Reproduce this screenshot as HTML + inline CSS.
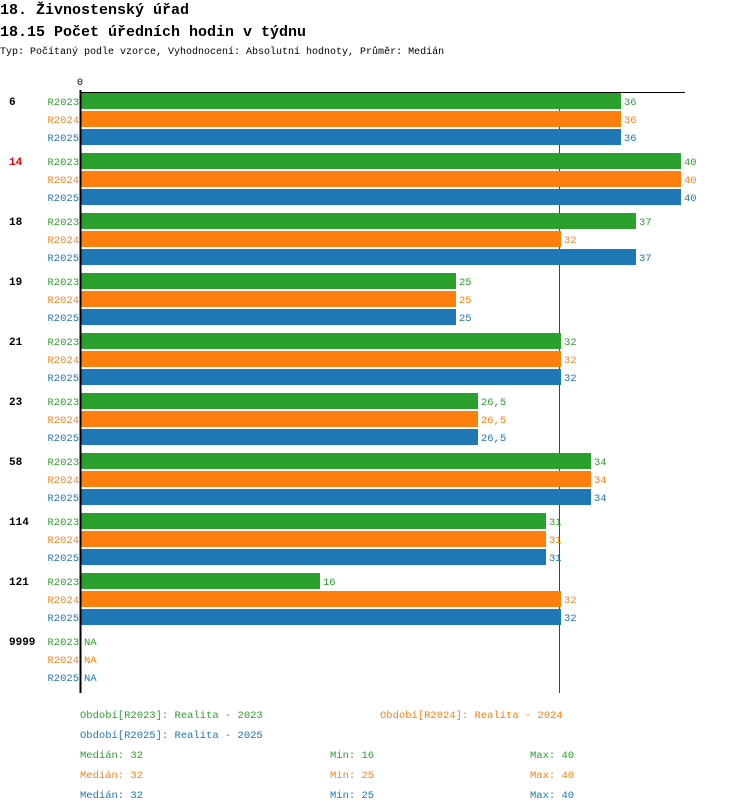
<!DOCTYPE html>
<html><head><meta charset="utf-8"><style>
body{margin:0;background:#fff;}
svg{display:block;font-family:"Liberation Mono",monospace;}
</style></head><body>
<svg id="chart" width="750" height="812" xmlns="http://www.w3.org/2000/svg">
<text x="0" y="14" font-size="15" font-weight="bold">18. Živnostenský úřad</text>
<text x="0" y="36" font-size="15" font-weight="bold">18.15 Počet úředních hodin v týdnu</text>
<text x="0" y="54" font-size="10">Typ: Počítaný podle vzorce, Vyhodnocení: Absolutní hodnoty, Průměr: Medián</text>
<text x="80" y="85" font-size="10" text-anchor="middle">0</text>
<line id="median" y1="92" y2="693" stroke="#444" stroke-width="1"/>
<g id="bars"></g>
<line x1="80" y1="92.5" x2="685" y2="92.5" stroke="#000" stroke-width="1"/>
<line x1="80.5" y1="90" x2="80.5" y2="693" stroke="#000" stroke-width="2"/>
<g font-size="10.5">
<text x="80" y="718" fill="#2ca02c">Období[R2023]: Realita - 2023</text>
<text x="380" y="718" fill="#ff7f0e">Období[R2024]: Realita - 2024</text>
<text x="80" y="738" fill="#1f77b4">Období[R2025]: Realita - 2025</text>
<text x="80" y="758" fill="#2ca02c">Medián: 32</text>
<text x="330" y="758" fill="#2ca02c">Min: 16</text>
<text x="530" y="758" fill="#2ca02c">Max: 40</text>
<text x="80" y="778" fill="#ff7f0e">Medián: 32</text>
<text x="330" y="778" fill="#ff7f0e">Min: 25</text>
<text x="530" y="778" fill="#ff7f0e">Max: 40</text>
<text x="80" y="798" fill="#1f77b4">Medián: 32</text>
<text x="330" y="798" fill="#1f77b4">Min: 25</text>
<text x="530" y="798" fill="#1f77b4">Max: 40</text>
</g>
</svg>
<script>
const categories = ["6","14","18","19","21","23","58","114","121","9999"];
const highlighted = ["14"];
const seriesNames = ["R2023","R2024","R2025"];
const r2023 = [36,40,37,25,32,26.5,34,31,16,null];
const r2024 = [36,40,32,25,32,26.5,34,31,32,null];
const r2025 = [36,40,37,25,32,26.5,34,31,32,null];
const medianValue = 32;

const colors = ["#2ca02c","#ff7f0e","#1f77b4"];
const series = [r2023, r2024, r2025];
const NS = "http://www.w3.org/2000/svg";
const x = v => 80 + v * 15.03;
const groupY = i => 93 + i * 60;
const g = document.getElementById("bars");
const med = document.getElementById("median");
med.setAttribute("x1", Math.round(x(medianValue)) - 1.5);
med.setAttribute("x2", Math.round(x(medianValue)) - 1.5);
function mk(tag, attrs, text){
  const e = document.createElementNS(NS, tag);
  for (const k in attrs) e.setAttribute(k, attrs[k]);
  if (text !== undefined) e.textContent = text;
  g.appendChild(e);
  return e;
}
categories.forEach((c, i) => {
  const y0 = groupY(i);
  const lab = mk("text", {x: 9, y: y0 + 12, "font-size": 11, "font-weight": "bold", fill: highlighted.includes(c) ? "#e00" : "#000"}, c);
  
  
  series.forEach((s, j) => {
    const by = y0 + j * 18;
    const sl = mk("text", {x: 79, y: by + 12, "font-size": 10.5, "text-anchor": "end", fill: colors[j]}, seriesNames[j]);
    
    
    const v = s[i];
    if (v === null || v === undefined) {
      const na = mk("text", {x: 84, y: by + 12, "font-size": 10.5, fill: colors[j]}, "NA");
      
      
      return;
    }
    const r = mk("rect", {x: 81, y: by, width: Math.round(x(v)) - 81, height: 16, fill: colors[j]});
    
    
    const t = mk("text", {x: Math.round(x(v)) + 3, y: by + 12, "font-size": 10.5, fill: colors[j]}, String(v).replace(".", ","));
    
    
  });
});
</script>
</body></html>
